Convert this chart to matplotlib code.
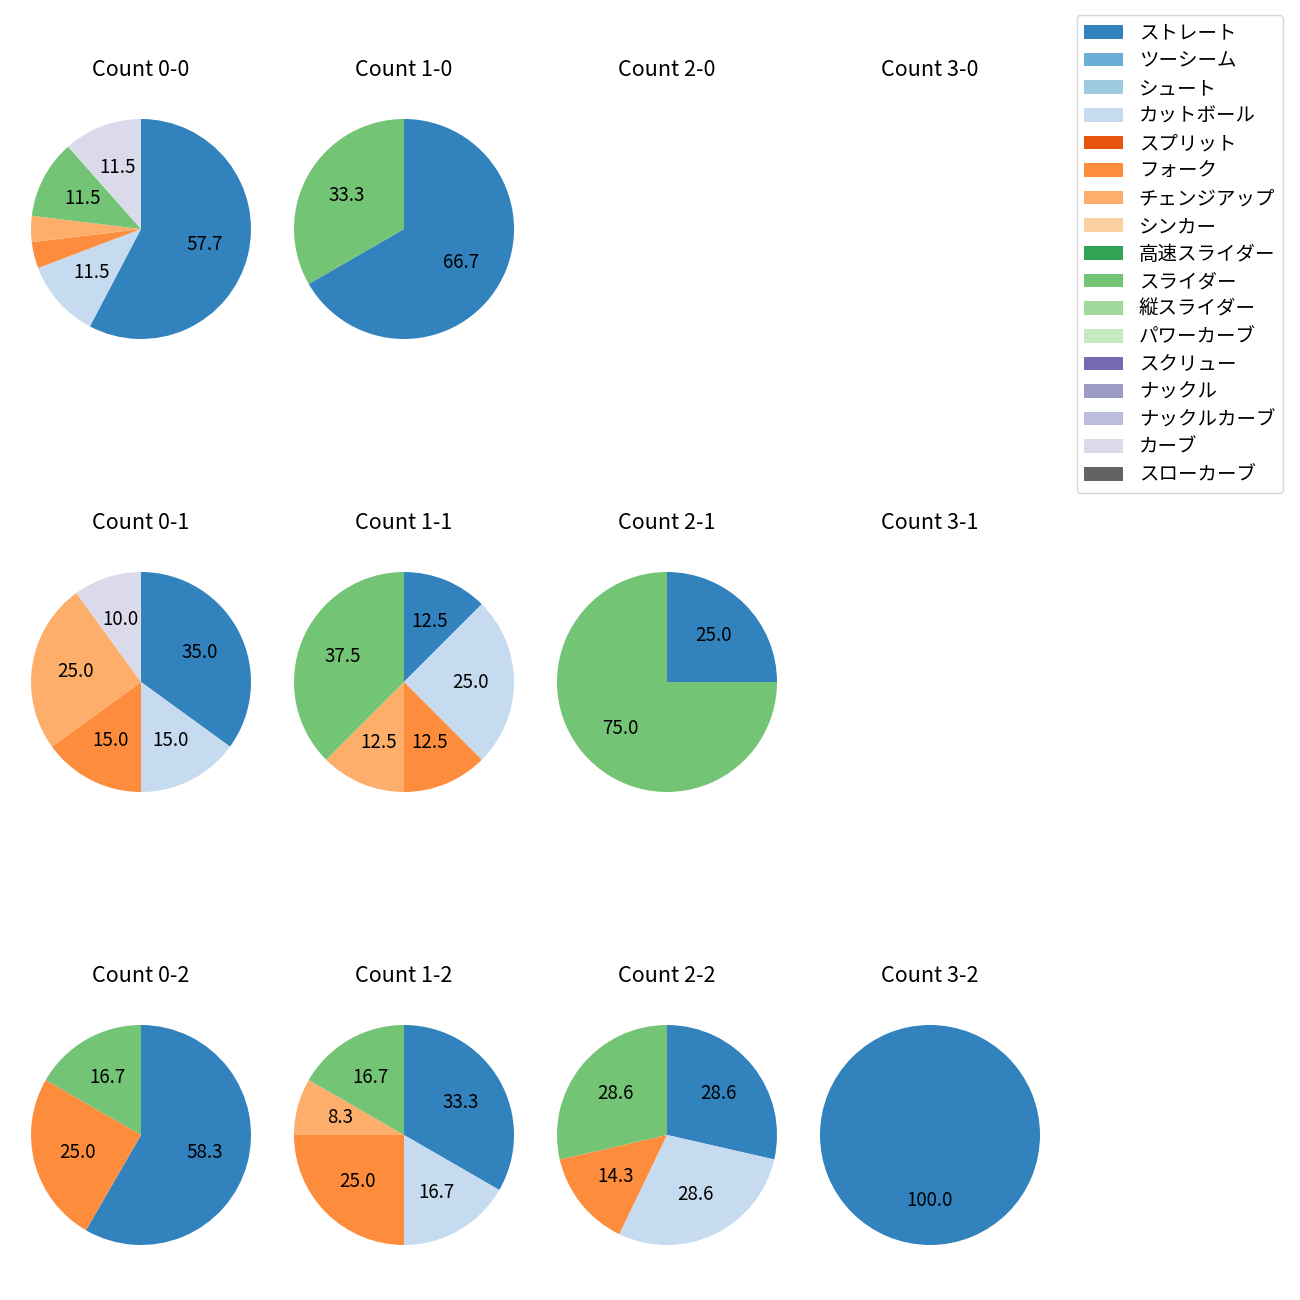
import matplotlib
matplotlib.use("Agg")
import matplotlib.pyplot as plt
from matplotlib.patches import Patch

plt.rcParams['font.family'] = ['Noto Sans CJK JP', 'DejaVu Sans']

pitch_types = ["ストレート", "ツーシーム", "シュート", "カットボール", "スプリット",
               "フォーク", "チェンジアップ", "シンカー", "高速スライダー", "スライダー",
               "縦スライダー", "パワーカーブ", "スクリュー", "ナックル", "ナックルカーブ",
               "カーブ", "スローカーブ"]

# pitch counts per ball-strike count, in the order of pitch_types
count_0_0 = [15, 0, 0, 3, 0, 1, 1, 0, 0, 3, 0, 0, 0, 0, 0, 3, 0]
count_1_0 = [2, 0, 0, 0, 0, 0, 0, 0, 0, 1, 0, 0, 0, 0, 0, 0, 0]
count_2_0 = [0] * 17
count_3_0 = [0] * 17
count_0_1 = [7, 0, 0, 3, 0, 3, 5, 0, 0, 0, 0, 0, 0, 0, 0, 2, 0]
count_1_1 = [1, 0, 0, 2, 0, 1, 1, 0, 0, 3, 0, 0, 0, 0, 0, 0, 0]
count_2_1 = [1, 0, 0, 0, 0, 0, 0, 0, 0, 3, 0, 0, 0, 0, 0, 0, 0]
count_3_1 = [0] * 17
count_0_2 = [7, 0, 0, 0, 0, 3, 0, 0, 0, 2, 0, 0, 0, 0, 0, 0, 0]
count_1_2 = [4, 0, 0, 2, 0, 3, 1, 0, 0, 2, 0, 0, 0, 0, 0, 0, 0]
count_2_2 = [2, 0, 0, 2, 0, 1, 0, 0, 0, 2, 0, 0, 0, 0, 0, 0, 0]
count_3_2 = [1, 0, 0, 0, 0, 0, 0, 0, 0, 0, 0, 0, 0, 0, 0, 0, 0]

grid = [
    [("0-0", count_0_0), ("1-0", count_1_0), ("2-0", count_2_0), ("3-0", count_3_0)],
    [("0-1", count_0_1), ("1-1", count_1_1), ("2-1", count_2_1), ("3-1", count_3_1)],
    [("0-2", count_0_2), ("1-2", count_1_2), ("2-2", count_2_2), ("3-2", count_3_2)],
]

cmap = plt.get_cmap('tab20c')
colors = [cmap(i) for i in range(len(pitch_types))]

W, H = 1300, 1300
fig = plt.figure(figsize=(13, 13), dpi=100)

size = 250  # axes box in pixels
for r, row in enumerate(grid):
    for c, (label, values) in enumerate(row):
        cx = 141 + 263 * c
        cy = 229 + 453 * r
        ax = fig.add_axes([(cx - size / 2) / W, 1 - (cy + size / 2) / H, size / W, size / H])
        ax.set_title(f"Count {label}", fontsize=15.5, pad=20)
        vals = [v for v in values if v > 0]
        cols = [colors[i] for i, v in enumerate(values) if v > 0]
        if not vals:
            ax.axis('off')
            continue
        ax.pie(vals, colors=cols, startangle=90, counterclock=False, radius=1.1,
               autopct=lambda p: f"{p:.1f}" if p >= 5 else "", pctdistance=0.6,
               textprops={'fontsize': 13.5})

handles = [Patch(facecolor=colors[i], label=name) for i, name in enumerate(pitch_types)]
fig.legend(handles=handles, loc='upper right', bbox_to_anchor=(1283 / W, 1 - 15 / H),
           fontsize=14, borderaxespad=0, labelspacing=0.34)

fig.savefig("out.png", dpi=100)
